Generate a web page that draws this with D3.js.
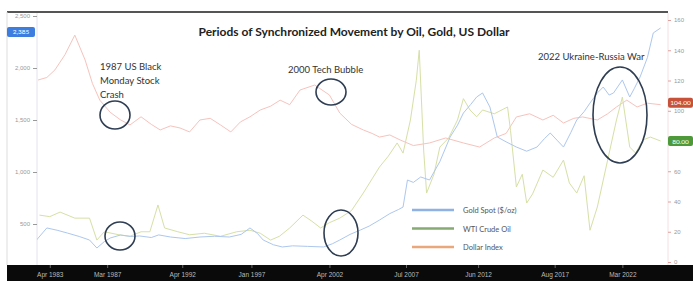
<!DOCTYPE html>
<html>
<head>
<meta charset="utf-8">
<script src="https://cdn.jsdelivr.net/npm/d3@7"></script>
<style>
  body { margin: 0; background: #fff; }
  svg { display: block; font-family: Lato, "Open Sans", sans-serif; }
</style>
</head>
<body>
<div id="chart"></div>
<script>
// decimal years + values
var goldYears  = [1982.4,1983.1,1983.8,1984.5,1985.3,1986.0,1986.5,1987.0,1987.4,1988.1,1988.8,1989.4,1990.2,1990.7,1991.5,1992.5,1993.5,1994.5,1995.5,1996.3,1996.9,1997.4,1997.8,1998.5,1999.1,1999.8,2000.8,2001.9,2002.5,2003.0,2003.7,2004.4,2005.0,2005.7,2006.4,2007.0,2007.3,2007.6,2008.0,2008.5,2009.1,2009.8,2010.5,2011.0,2011.4,2011.9,2012.3,2012.7,2013.2,2013.7,2014.3,2015.0,2015.7,2016.4,2016.9,2017.3,2017.8,2018.2,2018.7,2019.1,2019.6,2020.0,2020.5,2020.9,2021.3,2021.6,2022.2,2022.7,2023.0,2023.4,2023.9,2024.3,2024.8];
var goldValues = [346,462,440,413,380,346,269,330,365,394,380,385,370,395,375,360,375,382,375,400,462,410,346,300,279,290,285,279,310,346,400,442,480,538,600,640,663,923,900,952,923,1100,1337,1450,1567,1650,1721,1760,1625,1337,1290,1240,1200,1240,1320,1375,1300,1240,1380,1500,1580,1663,1760,1817,1740,1760,1885,1721,1800,1913,2100,2337,2385];

var oilYears  = [1982.6,1983.3,1984.0,1985.0,1986.0,1986.5,1987.0,1988.0,1988.75,1989.5,1990.1,1990.65,1991.1,1992.0,1992.8,1993.8,1994.9,1996.0,1996.9,1997.6,1998.3,1998.9,1999.6,2000.5,2001.1,2001.7,2002.3,2003.0,2003.8,2004.6,2005.2,2005.7,2006.3,2006.9,2007.3,2007.8,2008.2,2008.4,2008.7,2008.9,2009.4,2009.8,2010.4,2011.0,2011.4,2011.85,2012.3,2012.7,2013.5,2014.4,2014.6,2015.0,2015.4,2015.7,2016.1,2016.8,2017.5,2018.2,2018.6,2019.1,2019.6,2020.0,2020.5,2021.2,2021.8,2022.2,2022.7,2023.1,2023.6,2024.1,2024.8];
var oilValues  = [31,30,33,29,29,14.5,20,18,17,20,20,37.7,22.5,20,18,19,17,20,21,19,14.5,17,22.5,31,27,22.5,26,29,34,45.6,55,62.8,70,78.7,72,93.9,120,140,74,45.6,58,76,82,93.9,108,100.5,96,100.5,98,102.5,87,49.6,58,39,45,60.8,56,67.4,52.2,45.6,57,21,36.4,67.4,93.9,109,76,72,80.7,82.6,80];

var dollarYears  = [1982.5,1983.1,1983.65,1984.33,1985.0,1985.7,1986.2,1986.7,1987.4,1988.1,1988.75,1989.5,1990.2,1990.8,1991.5,1992.15,1992.8,1993.5,1994.2,1994.9,1995.6,1996.25,1996.9,1997.6,1998.3,1998.95,1999.6,2000.3,2001.3,2002.3,2003.0,2003.8,2004.6,2005.2,2005.7,2006.4,2007.1,2008.0,2009.1,2010.2,2011.4,2012.5,2013.5,2014.3,2015.0,2015.9,2016.8,2017.5,2018.2,2018.9,2019.5,2020.5,2021.2,2021.8,2022.5,2023.2,2023.9,2024.8];
var dollarValues = [120.3,122,127,137,150,133.6,118,107,99,94,90.6,96,91,87.3,90,88.6,86,93.9,95,90.6,86,92.6,96,100.5,103,107,104,113.7,117,110.4,98.5,91,87.3,85,82.6,84,80.7,77,78.7,82,78.7,76,82,85,95.9,98,93.9,97,91.9,95,95.9,93.9,98,102.5,107,102.5,105,104];

var leftTicks  = [500, 1000, 1500, 2000, 2500];
var rightTicks = [0, 20, 40, 60, 100, 120, 140, 160];
var xTickDates = [1983.3, 1987.2, 1992.3, 1997.0, 2002.3, 2007.5, 2012.4, 2017.6, 2022.2];
var xTickLabels = ["Apr 1983", "Mar 1987", "Apr 1992", "Jan 1997", "Apr 2002", "Jul 2007", "Jun 2012", "Aug 2017", "Mar 2022"];

var legendNames = ["Gold Spot ($/oz)", "WTI Crude Oil", "Dollar Index"];
var legendColors = ["#8fb1e3", "#86aa72", "#eba77c"];

var width = 693, height = 281;
var plotLeft = 37, plotRight = 668, plotTop = 13, plotBottom = 265;

var svg = d3.select("#chart").append("svg")
    .attr("width", width)
    .attr("height", height);

var x = d3.scaleLinear().domain([1982.5, 2025.3]).range([38, 668]);
var yLeft = d3.scaleLinear().domain([0, 2500]).range([276, 16]);
var yRight = d3.scaleLinear().domain([0, 160]).range([262, 20]);

// frame
svg.append("line")
    .attr("x1", 7).attr("x2", plotRight)
    .attr("y1", 12).attr("y2", 12)
    .attr("stroke", "#555").attr("stroke-width", 2);
svg.append("line")
    .attr("x1", 7).attr("x2", 7)
    .attr("y1", 12).attr("y2", plotBottom)
    .attr("stroke", "#ddd");
svg.append("line")
    .attr("x1", plotLeft).attr("x2", plotLeft)
    .attr("y1", plotTop).attr("y2", plotBottom)
    .attr("stroke", "#e4e4ec");
svg.append("line")
    .attr("x1", plotRight).attr("x2", plotRight)
    .attr("y1", plotTop).attr("y2", plotBottom)
    .attr("stroke", "#f3e0e0");

svg.append("clipPath").attr("id", "clip")
  .append("rect")
    .attr("x", plotLeft).attr("y", plotTop)
    .attr("width", plotRight - plotLeft).attr("height", plotBottom - plotTop);

// left axis
var leftAxis = svg.append("g")
    .attr("transform", "translate(" + plotLeft + ",0)")
    .call(d3.axisLeft(yLeft).tickValues(leftTicks).tickSize(4));
leftAxis.select(".domain").remove();
leftAxis.selectAll("line").attr("stroke", "#999");
leftAxis.selectAll("text").attr("fill", "#999").attr("font-size", 6);

// right axis
var rightAxis = svg.append("g")
    .attr("transform", "translate(" + plotRight + ",0)")
    .call(d3.axisRight(yRight).tickValues(rightTicks).tickSize(3));
rightAxis.select(".domain").remove();
rightAxis.selectAll("line").attr("stroke", "#e0a0a0");
rightAxis.selectAll("text").attr("fill", "#999").attr("font-size", 6);

// series
var lineGold = d3.line()
    .x(function(d, i) { return x(goldYears[i]); })
    .y(function(d) { return yLeft(d); });
var lineRight = function(years) {
    return d3.line()
        .x(function(d, i) { return x(years[i]); })
        .y(function(d) { return yRight(d); });
};

var plot = svg.append("g").attr("clip-path", "url(#clip)");

plot.append("path")
    .datum(dollarValues)
    .attr("d", lineRight(dollarYears))
    .attr("fill", "none")
    .attr("stroke", "#f6c3bd")
    .attr("stroke-width", 1);

plot.append("path")
    .datum(oilValues)
    .attr("d", lineRight(oilYears))
    .attr("fill", "none")
    .attr("stroke", "#d6e0a6")
    .attr("stroke-width", 1);

plot.append("path")
    .datum(goldValues)
    .attr("d", lineGold)
    .attr("fill", "none")
    .attr("stroke", "#adc7ee")
    .attr("stroke-width", 1);

// title
svg.append("text")
    .attr("x", 354).attr("y", 36)
    .attr("text-anchor", "middle")
    .attr("font-size", 12)
    .attr("font-weight", "bold")
    .attr("fill", "#222")
    .text("Periods of Synchronized Movement by Oil, Gold, US Dollar");

// annotations
var notes = svg.append("g").attr("fill", "#333").attr("font-size", 9.5);
notes.append("text").attr("x", 100).attr("y", 70).text("1987 US Black");
notes.append("text").attr("x", 100).attr("y", 84).text("Monday Stock");
notes.append("text").attr("x", 100).attr("y", 98).text("Crash");
notes.append("text").attr("x", 288).attr("y", 73).text("2000 Tech Bubble");
notes.append("text").attr("x", 538).attr("y", 60).text("2022 Ukraine-Russia War");

var rings = [
    {cx: 115, cy: 115, rx: 15, ry: 14},
    {cx: 331, cy: 92, rx: 15, ry: 13},
    {cx: 620, cy: 115, rx: 27, ry: 48},
    {cx: 120, cy: 236, rx: 15, ry: 14},
    {cx: 341, cy: 233, rx: 17, ry: 23}
];
svg.selectAll(".ring")
    .data(rings)
    .enter()
    .append("ellipse")
    .attr("class", "ring")
    .attr("cx", function(d) { return d.cx; })
    .attr("cy", function(d) { return d.cy; })
    .attr("rx", function(d) { return d.rx; })
    .attr("ry", function(d) { return d.ry; })
    .attr("fill", "none")
    .attr("stroke", "#2e3d52")
    .attr("stroke-width", 1.6);

// legend
var legend = svg.selectAll(".legend")
    .data(legendNames)
    .enter()
    .append("g")
    .attr("class", "legend")
    .attr("transform", function(d, i) { return "translate(412," + (210 + i * 18.5) + ")"; });
legend.append("line")
    .attr("x1", 0).attr("x2", 42)
    .attr("stroke", function(d, i) { return legendColors[i]; })
    .attr("stroke-width", 2.5);
legend.append("text")
    .attr("x", 51).attr("y", 3)
    .attr("font-size", 7.5)
    .attr("fill", "#555")
    .text(function(d) { return d; });

// last value badges
function badge(xPos, yPos, w, fill, label) {
    var g = svg.append("g");
    g.append("rect")
        .attr("x", xPos).attr("y", yPos - 5)
        .attr("width", w).attr("height", 10)
        .attr("rx", 2)
        .attr("fill", fill);
    g.append("text")
        .attr("x", xPos + w / 2).attr("y", yPos + 2.5)
        .attr("text-anchor", "middle")
        .attr("font-size", 6.5)
        .attr("fill", "#fff")
        .text(label);
}
var lastGold = goldValues[goldValues.length - 1];
var lastOil = oilValues[oilValues.length - 1];
var lastDollar = dollarValues[dollarValues.length - 1];
badge(7, yLeft(lastGold) + 4, 28, "#3d7de0", d3.format(",.0f")(lastGold));
badge(668, yRight(lastDollar) - 2, 25, "#c8513a", d3.format(".2f")(lastDollar));
badge(668, yRight(lastOil), 25, "#4e9a3a", d3.format(".2f")(lastOil));

// bottom date band
svg.append("rect")
    .attr("x", 7).attr("y", plotBottom)
    .attr("width", width - 7).attr("height", height - plotBottom)
    .attr("fill", "#0a0a0a");
var bottom = svg.append("g")
    .attr("transform", "translate(0," + plotBottom + ")")
    .call(d3.axisBottom(x).tickValues(xTickDates)
        .tickFormat(function(d, i) { return xTickLabels[i]; })
        .tickSize(3));
bottom.select(".domain").remove();
bottom.selectAll("line").attr("stroke", "#666");
bottom.selectAll("text").attr("fill", "#bbb").attr("font-size", 6.5).attr("dy", "0.9em");
</script>
</body>
</html>
